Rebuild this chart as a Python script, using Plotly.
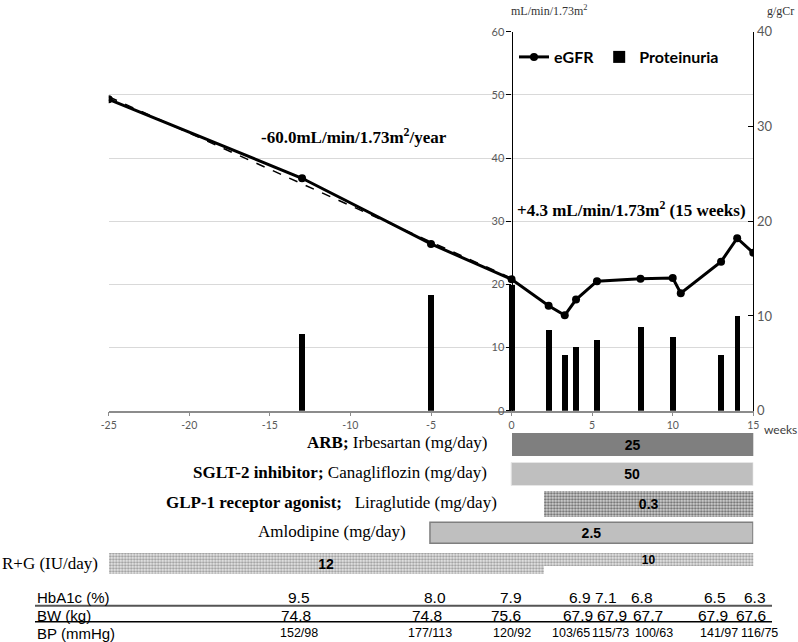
import numpy as np
import plotly.graph_objects as go

# ---------------- data ----------------
egfr_weeks = [-25, -13, -5, 0, 2.3, 3.3, 4, 5.3, 8, 10, 10.5, 13, 14, 15]
egfr_values = [49.3, 36.8, 26.4, 20.8, 16.6, 15.1, 17.6, 20.5, 20.9, 21.0, 18.6, 23.6, 27.3, 25.0]

prot_weeks = [-13, -5, 0, 2.3, 3.3, 4, 5.3, 8, 10, 13, 14]
prot_values = [8.1, 12.2, 13.3, 8.5, 5.9, 6.8, 7.5, 8.9, 7.8, 5.9, 10.0]

x_ticks = [-25, -20, -15, -10, -5, 0, 5, 10, 15]
x_tick_labels = ["-25", "-20", "-15", "-10", "-5", "0", "5", "10", "15"]
left_ticks = [0, 10, 20, 30, 40, 50, 60]
right_ticks = [0, 10, 20, 30, 40]

med_bold = ["ARB;", "SGLT-2 inhibitor;", "GLP-1 receptor agonist;", "", ""]
med_names = ["Irbesartan (mg/day)", "Canagliflozin (mg/day)", "Liraglutide (mg/day)",
             "Amlodipine (mg/day)", "R+G (IU/day)"]
med_start = [0, 0, 2, -5, -25]
med_end = [15, 15, 15, 15, 2]
med_dose = ["25", "50", "0.3", "2.5", "12"]
rg2_start, rg2_end, rg2_dose = 2, 15, "10"

table_labels = ["HbA1c (%)", "BW (kg)", "BP (mmHg)"]
hba1c = ["9.5", "8.0", "7.9", "6.9", "7.1", "6.8", "6.5", "6.3"]
bw = ["74.8", "74.8", "75.6", "67.9", "67.9", "67.7", "67.9", "67.6"]
bp = ["152/98", "177/113", "120/92", "103/65", "115/73", "100/63", "141/97", "116/75"]

# ---------------- layout helpers (positions / styles) ----------------
W, H = 798, 642
SERIF = "Liberation Serif"
SANS = "Liberation Sans"
TICKF = "Lato"
X_RANGE = [-25, 15]

def px_x(p):
    return p / W

def px_y(p):
    return 1 - p / H

x_dom = [px_x(108.7), px_x(753.3)]
y_dom = [px_y(410.7), px_y(31.7)]
med_dom = [px_y(579), px_y(429)]

def week_to_paper(w):
    return x_dom[0] + (w - X_RANGE[0]) / (X_RANGE[1] - X_RANGE[0]) * (x_dom[1] - x_dom[0])

left_axis_pos = week_to_paper(0)

# text column positions of the table (in weeks)
hba1c_pos = [-13.2, -4.75, -0.05, 4.25, 5.85, 8.1, 12.65, 15.1]
bw_pos = [-13.35, -5.25, -0.35, 4.1, 6.25, 8.45, 12.5, 14.85]
bp_pos = [-13.2, -5.05, 0.0, 3.7, 6.15, 8.85, 12.9, 15.4]
table_rows_y = [597.7, 615.7, 633.0]

bar_heights = [0.77, 0.76, 0.87, 0.69, 0.73]
label_shift = [-23, -23, -45, -23, 0]

fig = go.Figure()

# linear trend of the pre-treatment eGFR values
pre_x = [w for w in egfr_weeks if w <= 0]
pre_y = [v for w, v in zip(egfr_weeks, egfr_values) if w <= 0]
coef = np.polyfit(pre_x, pre_y, 1)
trend_x = [min(pre_x), max(pre_x)]
trend_y = list(np.polyval(coef, trend_x))

fig.add_trace(go.Scatter(x=trend_x, y=trend_y, mode="lines",
                         line=dict(color="black", width=1.5, dash="dash"),
                         showlegend=False, hoverinfo="skip", xaxis="x", yaxis="y"))
fig.add_trace(go.Scatter(x=egfr_weeks, y=egfr_values, mode="lines+markers", name="eGFR",
                         line=dict(color="black", width=3),
                         marker=dict(color="black", size=8),
                         xaxis="x", yaxis="y"))
fig.add_trace(go.Bar(x=prot_weeks, y=prot_values, name="Proteinuria", width=0.37,
                     marker=dict(color="black", line=dict(width=0)),
                     xaxis="x", yaxis="y2"))

# medication bars
styles = [
    dict(color="#7f7f7f", line=dict(width=0)),
    dict(color="#bfbfbf", line=dict(color="#e6e6e6", width=1)),
    dict(color="#c0c0c0", line=dict(width=0),
         pattern=dict(shape=".", fgcolor="#6a6a6a", bgcolor="#d6d6d6", size=3, solidity=0.45)),
    dict(color="#bfbfbf", line=dict(color="#7f7f7f", width=1.5)),
    dict(color="#d0d0d0", line=dict(width=0),
         pattern=dict(shape=".", fgcolor="#9a9a9a", bgcolor="#e9e9e9", size=3, solidity=0.45)),
]
for i in range(len(med_names)):
    fig.add_trace(go.Bar(
        orientation="h", y=[i], x=[med_end[i] - med_start[i]], base=[med_start[i]],
        width=[bar_heights[i]], marker=styles[i], text=[f"<b>{med_dose[i]}</b>"],
        textposition="inside", insidetextanchor="middle", constraintext="none",
        textfont=dict(family=SANS, size=14, color="black"), textangle=0,
        showlegend=False, hoverinfo="skip", xaxis="x2", yaxis="y3"))
fig.add_trace(go.Bar(
    orientation="h", y=[4], x=[rg2_end - rg2_start], base=[rg2_start],
    width=[0.447], offset=-0.363, marker=styles[4], text=[f"<b>{rg2_dose}</b>"],
    textposition="inside", insidetextanchor="middle", constraintext="none",
    textfont=dict(family=SANS, size=12, color="black"), textangle=0,
    showlegend=False, hoverinfo="skip", xaxis="x2", yaxis="y3"))

ann = []
# row labels
for i in range(len(med_names)):
    if i == 4:
        ann.append(dict(x=0, xref="paper", y=i, yref="y3", xanchor="left", yanchor="middle",
                        text=med_names[i], showarrow=False,
                        font=dict(family=SERIF, size=17, color="black")))
    else:
        sep = "&nbsp;&nbsp;&nbsp;" if i == 2 else "&nbsp;"
        txt = (f"<b>{med_bold[i]}</b>{sep}{med_names[i]}" if med_bold[i] else med_names[i])
        ann.append(dict(x=week_to_paper(med_start[i]), xref="paper", xshift=label_shift[i],
                        y=i, yref="y3", yshift=2, xanchor="right", yanchor="middle",
                        text=txt, showarrow=False,
                        font=dict(family=SERIF, size=17, color="black")))

# units and notes
ann.append(dict(x=px_x(509), y=px_y(10), xref="paper", yref="paper", xanchor="left",
                yanchor="middle", text="mL/min/1.73m<sup>2</sup>", showarrow=False,
                font=dict(family=SERIF, size=12, color="#333333")))
ann.append(dict(x=px_x(780), y=px_y(11), xref="paper", yref="paper", xanchor="center",
                yanchor="middle", text="g/gCr", showarrow=False,
                font=dict(family=SERIF, size=12, color="#333333")))
ann.append(dict(x=px_x(354), y=px_y(136), xref="paper", yref="paper", xanchor="center",
                yanchor="middle", text="<b>-60.0mL/min/1.73m<sup>2</sup>/year</b>", showarrow=False,
                font=dict(family=SERIF, size=17, color="black")))
ann.append(dict(x=px_x(631.5), y=px_y(209), xref="paper", yref="paper", xanchor="center",
                yanchor="middle", text="<b>+4.3 mL/min/1.73m<sup>2</sup> (15 weeks)</b>",
                showarrow=False, font=dict(family=SERIF, size=17, color="black")))
ann.append(dict(x=px_x(762), y=px_y(429), xref="paper", yref="paper", xanchor="left",
                yanchor="middle", text="weeks", showarrow=False,
                font=dict(family=TICKF, size=12, color="#404040")))

# table
for lbl, yy in zip(table_labels, table_rows_y):
    ann.append(dict(x=px_x(35), y=px_y(yy), xref="paper", yref="paper", xanchor="left",
                    yanchor="middle", text=lbl, showarrow=False,
                    font=dict(family=SANS, size=15, color="black")))
for vals, pos, yy, fs in [(hba1c, hba1c_pos, table_rows_y[0], 15.5),
                          (bw, bw_pos, table_rows_y[1], 15.5),
                          (bp, bp_pos, table_rows_y[2], 12.5)]:
    for v, p in zip(vals, pos):
        ann.append(dict(x=week_to_paper(p), xref="paper", y=px_y(yy), yref="paper",
                        xanchor="center", yanchor="middle", text=v, showarrow=False,
                        font=dict(family=SANS, size=fs, color="black")))

shapes = [
    dict(type="line", xref="paper", yref="paper", x0=px_x(35), x1=px_x(772),
         y0=px_y(605.7), y1=px_y(605.7), line=dict(color="#555555", width=2)),
    dict(type="line", xref="paper", yref="paper", x0=px_x(35), x1=px_x(772),
         y0=px_y(621.7), y1=px_y(621.7), line=dict(color="black", width=1.5)),
]

fig.update_layout(
    template="none",
    width=W, height=H, autosize=False,
    margin=dict(l=0, r=0, t=0, b=0, pad=0, autoexpand=False),
    paper_bgcolor="white", plot_bgcolor="white",
    barmode="overlay", bargap=0,
    showlegend=True,
    legend=dict(orientation="h", x=px_x(514), y=px_y(57), xanchor="left", yanchor="middle",
                font=dict(family=TICKF, size=16, color="black", weight="bold"),
                bgcolor="rgba(0,0,0,0)", borderwidth=0, itemwidth=30, traceorder="normal"),
    xaxis=dict(domain=x_dom, range=X_RANGE, anchor="y", tickvals=x_ticks,
               ticktext=x_tick_labels, automargin=False,
               showline=True, linecolor="#8c8c8c", linewidth=1.5, ticks="outside",
               ticklen=4, tickcolor="#8c8c8c", showgrid=False, zeroline=False,
               tickfont=dict(family=TICKF, size=10.5, color="#595959")),
    yaxis=dict(domain=y_dom, range=[0, 60], anchor="free", position=left_axis_pos,
               tickvals=left_ticks, showline=True, linecolor="black", linewidth=1.2,
               automargin=False,
               ticks="outside", ticklen=5, tickcolor="black", showgrid=True,
               gridcolor="#d9d9d9", gridwidth=1, zeroline=False,
               tickfont=dict(family=TICKF, size=11, color="#595959")),
    yaxis2=dict(range=[0, 40], overlaying="y", side="right", anchor="x",
                tickvals=right_ticks, showline=True, linecolor="black", linewidth=1.2,
                automargin=False,
                ticks="inside", ticklen=5, tickcolor="black", showgrid=False,
                zeroline=False, tickfont=dict(family=TICKF, size=13, color="#595959")),
    xaxis2=dict(domain=x_dom, range=X_RANGE, anchor="y3", visible=False, automargin=False),
    yaxis3=dict(domain=med_dom, range=[4.5214, -0.5214], anchor="x2", visible=False,
                automargin=False),
    annotations=ann, shapes=shapes,
)

fig.write_html("out.html", config={"displayModeBar": False},
               post_script="document.body.style.margin='0';")
